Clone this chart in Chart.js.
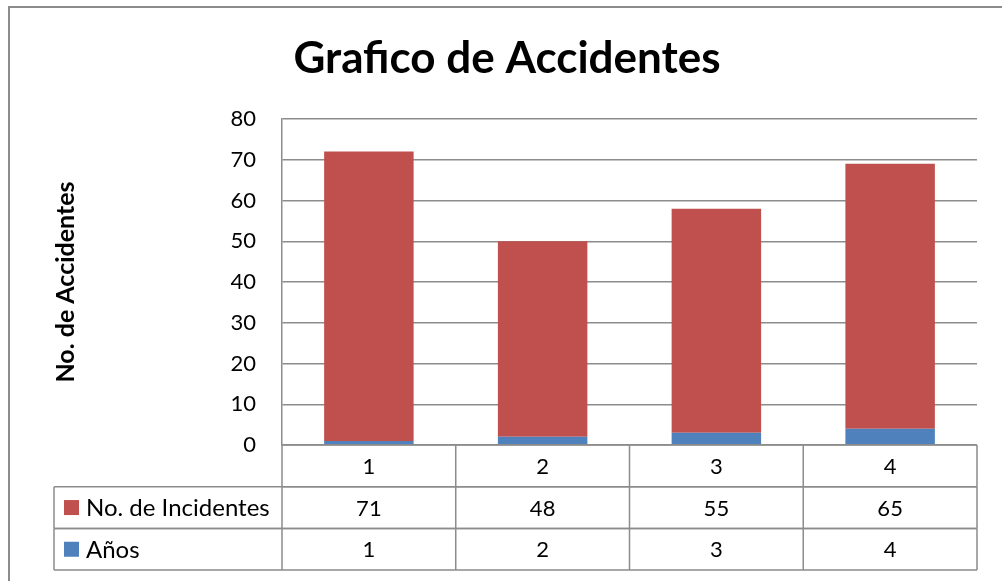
<!DOCTYPE html>
<html>
<head>
<meta charset="utf-8">
<script src="https://cdn.jsdelivr.net/npm/chart.js@4"></script>
<style>
  html, body { margin: 0; padding: 0; background: #fff; }
  #wrap { width: 1002px; height: 581px; }
</style>
</head>
<body>
<div id="wrap"><canvas id="grafico" width="1002" height="581"></canvas></div>
<script>
const categorias = ['1', '2', '3', '4'];
const incidentes = [71, 48, 55, 65];
const anos = [1, 2, 3, 4];
const yMin = 0, yMax = 80, yPaso = 10;

const rojo = '#C0504D';
const azul = '#4F81BD';
const gris = '#8c8c8c';
const fuente = 'Lato, Calibri, sans-serif';

// fondo, marco exterior y titulo
const marcoPlugin = {
    id: 'marco',
    beforeDraw(chart) {
        const ctx = chart.ctx;
        ctx.save();
        ctx.fillStyle = '#fff';
        ctx.fillRect(0, 0, chart.width, chart.height);
        ctx.strokeStyle = gris;
        ctx.lineWidth = 2;
        ctx.beginPath();
        ctx.moveTo(9, chart.height);
        ctx.lineTo(9, 7);
        ctx.lineTo(chart.width, 7);
        ctx.stroke();
        ctx.fillStyle = '#000';
        ctx.font = 'bold 44px ' + fuente;
        ctx.textAlign = 'center';
        ctx.textBaseline = 'alphabetic';
        ctx.fillText('Grafico de Accidentes', 507, 73);
        ctx.restore();
    }
};

// tabla de datos debajo del eje x
const tablaPlugin = {
    id: 'tabla',
    afterDraw(chart) {
        const ctx = chart.ctx;
        const area = chart.chartArea;
        const xs = chart.scales.x;
        const ancho = (area.right - area.left) / categorias.length;
        const filaH = 41.7;
        const izq = 54;
        const filas = [
            { valores: categorias },
            { etiqueta: 'No. de Incidentes', color: rojo, valores: incidentes },
            { etiqueta: 'Años', color: azul, valores: anos }
        ];
        ctx.save();
        ctx.strokeStyle = gris;
        ctx.lineWidth = 1.5;
        ctx.textBaseline = 'middle';
        filas.forEach((fila, r) => {
            const y0 = area.bottom + r * filaH;
            const y1 = y0 + filaH;
            const x0 = fila.etiqueta ? izq : area.left;
            ctx.beginPath();
            ctx.moveTo(x0, y0); ctx.lineTo(area.right, y0);
            ctx.moveTo(x0, y1); ctx.lineTo(area.right, y1);
            ctx.moveTo(x0, y0); ctx.lineTo(x0, y1);
            for (let i = 0; i <= categorias.length; i++) {
                const xx = area.left + i * ancho;
                ctx.moveTo(xx, y0); ctx.lineTo(xx, y1);
            }
            ctx.stroke();
            const yc = (y0 + y1) / 2;
            ctx.fillStyle = '#000';
            ctx.textAlign = 'center';
            ctx.font = '22px ' + fuente;
            fila.valores.forEach((v, i) => {
                ctx.fillText(String(v), xs.getPixelForValue(i), yc + 1);
            });
            if (fila.etiqueta) {
                ctx.fillStyle = fila.color;
                ctx.fillRect(64, yc - 7.5, 15, 15);
                ctx.fillStyle = '#000';
                ctx.textAlign = 'left';
                ctx.font = '24px ' + fuente;
                ctx.fillText(fila.etiqueta, 86, yc + 1);
            }
        });
        ctx.restore();
    }
};

new Chart(document.getElementById('grafico'), {
    type: 'bar',
    data: {
        labels: categorias,
        datasets: [{
            label: 'Años',
            data: anos,
            backgroundColor: azul,
            categoryPercentage: 1,
            barPercentage: 0.515
        }, {
            label: 'No. de Incidentes',
            data: incidentes,
            backgroundColor: rojo,
            categoryPercentage: 1,
            barPercentage: 0.515
        }]
    },
    options: {
        responsive: false,
        animation: false,
        layout: { padding: { left: 0, top: 119, right: 25, bottom: 136 } },
        plugins: {
            legend: { display: false },
            tooltip: { enabled: false }
        },
        scales: {
            x: {
                stacked: true,
                display: false
            },
            y: {
                stacked: true,
                min: yMin,
                max: yMax,
                ticks: {
                    stepSize: yPaso,
                    color: '#000',
                    padding: 26,
                    font: { family: fuente, size: 22 }
                },
                grid: { color: gris, lineWidth: 1.5, drawTicks: false },
                border: { color: gris, width: 1.5 },
                title: {
                    display: true,
                    text: 'No. de Accidentes',
                    color: '#000',
                    font: { family: fuente, size: 25, weight: 'bold' },
                    padding: { top: 51, bottom: 0 }
                },
                afterFit(scale) { scale.width = 282; }
            }
        }
    },
    plugins: [marcoPlugin, tablaPlugin]
});
</script>
</body>
</html>
